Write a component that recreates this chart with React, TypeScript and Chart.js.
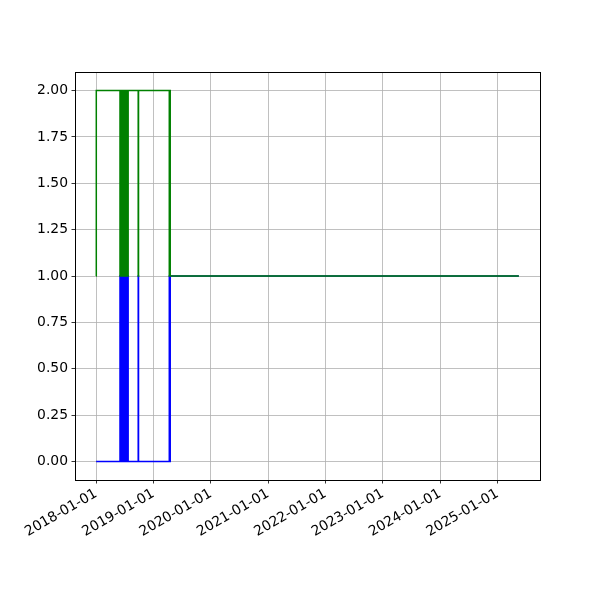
import React, { useEffect, useRef } from "react";
import { Chart, registerables } from "chart.js";

Chart.register(...registerables);

// Green series: change points (value held until next date)
const GREEN_DATES = [
  "2018-01-01", "2018-01-02",
  "2018-06-02", "2018-06-05", "2018-06-08", "2018-06-11", "2018-06-14", "2018-06-17",
  "2018-06-20", "2018-06-23", "2018-06-26", "2018-06-29", "2018-07-02", "2018-07-05",
  "2018-07-08", "2018-07-11", "2018-07-14", "2018-07-17", "2018-07-20", "2018-07-24",
  "2018-09-26", "2018-09-28",
  "2019-04-12", "2019-04-15", "2019-04-18",
  "2025-05-17",
];
const GREEN_VALUES = [
  1, 2,
  1, 2, 1, 2, 1, 2,
  1, 2, 1, 2, 1, 2,
  1, 2, 1, 2, 1, 2,
  1, 2,
  1, 2, 1,
  1,
];

// Blue series: change points
const BLUE_DATES = [
  "2018-01-01",
  "2018-06-02", "2018-06-05", "2018-06-08", "2018-06-11", "2018-06-14", "2018-06-17",
  "2018-06-20", "2018-06-23", "2018-06-26", "2018-06-29", "2018-07-02", "2018-07-05",
  "2018-07-08", "2018-07-11", "2018-07-14", "2018-07-17", "2018-07-20", "2018-07-24",
  "2018-09-26", "2018-09-28",
  "2019-04-12", "2019-04-15", "2019-04-18",
  "2025-05-17",
];
const BLUE_VALUES = [
  0,
  1, 0, 1, 0, 1, 0,
  1, 0, 1, 0, 1, 0,
  1, 0, 1, 0, 1, 0,
  1, 0,
  1, 0, 1,
  1,
];

const X_TICK_DATES = [
  "2018-01-01", "2019-01-01", "2020-01-01", "2021-01-01",
  "2022-01-01", "2023-01-01", "2024-01-01", "2025-01-01",
];
const Y_TICKS = [0, 0.25, 0.5, 0.75, 1.0, 1.25, 1.5, 1.75, 2.0];

function toDay(s: string): number {
  const [y, m, d] = s.split("-").map(Number);
  return Date.UTC(y, m - 1, d) / 86400000;
}

const FONT = { family: "'DejaVu Sans', sans-serif", size: 13.9 };

const framePlugin = {
  id: "frame",
  afterDatasetsDraw(chart: any) {
    const { ctx, chartArea } = chart;
    ctx.save();
    ctx.strokeStyle = "#000";
    ctx.lineWidth = 1;
    ctx.strokeRect(
      Math.round(chartArea.left) + 0.5,
      Math.round(chartArea.top) + 0.5,
      Math.round(chartArea.right - chartArea.left),
      Math.round(chartArea.bottom - chartArea.top)
    );
    ctx.restore();
  },
};

export default function App() {
  const ref = useRef<HTMLCanvasElement>(null);

  useEffect(() => {
    document.body.style.margin = "0";
    const green = GREEN_DATES.map((d, i) => ({ x: toDay(d), y: GREEN_VALUES[i] }));
    const blue = BLUE_DATES.map((d, i) => ({ x: toDay(d), y: BLUE_VALUES[i] }));
    const allX = [...green, ...blue].map((p) => p.x);
    const xMinData = Math.min(...allX);
    const xMaxData = Math.max(...allX);
    const margin = (xMaxData - xMinData) * 0.05;

    const chart = new Chart(ref.current!, {
      type: "line",
      data: {
        datasets: [
          {
            data: blue,
            borderColor: "#0000ff",
            borderWidth: 1.5,
            pointRadius: 0,
            stepped: true,
            order: 2,
            tension: 0,
          },
          {
            data: green,
            borderColor: "#008000",
            borderWidth: 1.5,
            pointRadius: 0,
            stepped: true,
            order: 1,
            tension: 0,
          },
        ],
      },
      options: {
        animation: false,
        responsive: false,
        layout: { padding: { left: 0, right: 60, top: 72, bottom: 0 } },
        plugins: { legend: { display: false }, tooltip: { enabled: false } },
        scales: {
          x: {
            type: "linear",
            min: xMinData - margin,
            max: xMaxData + margin,
            afterBuildTicks: (scale: any) => {
              scale.ticks = X_TICK_DATES.map((d) => ({ value: toDay(d) }));
            },
            afterFit: (scale: any) => {
              scale.height = 120;
            },
            ticks: {
              autoSkip: false,
              minRotation: 30,
              maxRotation: 30,
              color: "#000",
              font: FONT,
              padding: 2,
              callback: (_v: any, i: number) => X_TICK_DATES[i],
            },
            grid: {
              color: "#b0b0b0",
              lineWidth: 0.8,
              tickColor: "#000",
              tickLength: 3.5,
            },
            border: { display: false },
          },
          y: {
            type: "linear",
            min: -0.1,
            max: 2.1,
            afterBuildTicks: (scale: any) => {
              scale.ticks = Y_TICKS.map((v) => ({ value: v }));
            },
            afterFit: (scale: any) => {
              scale.width = 75;
            },
            ticks: {
              color: "#000",
              font: FONT,
              padding: 3.5,
              callback: (v: any) => Number(v).toFixed(2),
            },
            grid: {
              color: "#b0b0b0",
              lineWidth: 0.8,
              tickColor: "#000",
              tickLength: 3.5,
            },
            border: { display: false },
          },
        },
      },
      plugins: [framePlugin],
    });
    return () => chart.destroy();
  }, []);

  return (
    <div style={{ width: 600, height: 600 }}>
      <canvas ref={ref} width={600} height={600} />
    </div>
  );
}
